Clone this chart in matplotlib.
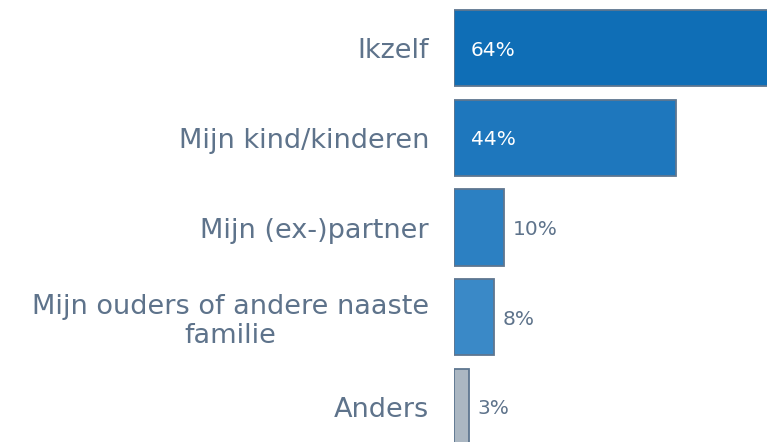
import matplotlib
matplotlib.use("Agg")
import matplotlib.pyplot as plt

plt.rcParams['font.family'] = ['DejaVu Sans']

categories = ["Ikzelf", "Mijn kind/kinderen", "Mijn (ex-)partner",
              "Mijn ouders of andere naaste\nfamilie", "Anders"]
values = [64, 44, 10, 8, 3]
labels = ["64%", "44%", "10%", "8%", "3%"]
colors = ["#0F6EB6", "#1E77BD", "#2C80C2", "#3A89C7", "#ABB7C2"]

text_color = "#5E738B"
edge_color = "#5E7690"

fig = plt.figure(figsize=(7.67, 4.42), dpi=100)
ax = fig.add_axes([454 / 767, 0, 1 - 454 / 767, 1])

y = list(range(len(categories)))
ax.barh(y, values, height=0.85, color=colors, edgecolor=edge_color, linewidth=1.3)

ax.set_xlim(0, 62)
ax.set_ylim(4.39, -0.535)

ax.set_yticks(y)
ax.set_yticklabels(categories, fontsize=19.5, color=text_color,
                   multialignment='center', linespacing=1.15)
ax.tick_params(axis='y', length=0, pad=18)
ax.set_xticks([])
for s in ax.spines.values():
    s.set_visible(False)

# value labels: inside for the big bars, outside for small ones
for i, (v, lab) in enumerate(zip(values, labels)):
    if v > 20:
        ax.annotate(lab, (0, i), xytext=(17, -2), textcoords='offset pixels',
                    ha='left', va='center', fontsize=14.5, color='white')
    else:
        ax.annotate(lab, (v, i), xytext=(8, -2), textcoords='offset pixels',
                    ha='left', va='center', fontsize=14.5, color=text_color)

fig.savefig("out.png", dpi=100)
